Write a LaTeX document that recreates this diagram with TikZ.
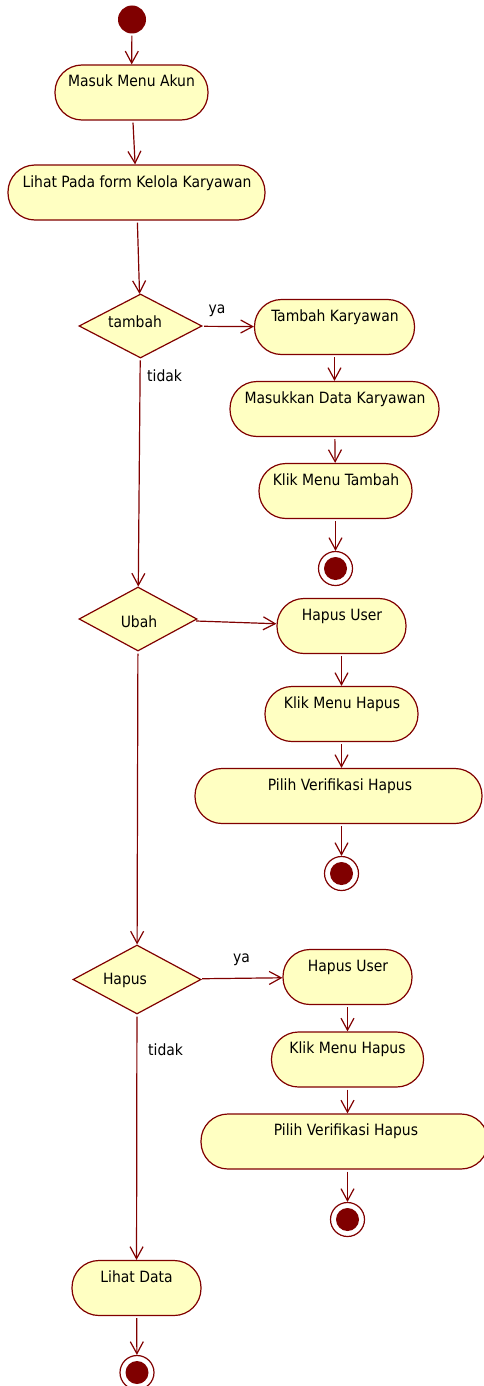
\documentclass[tikz,border=0pt]{standalone}
\usepackage{fontspec}
\setmainfont{DejaVu Sans Condensed}
\usetikzlibrary{shapes.geometric,arrows.meta}
\definecolor{umlred}{RGB}{128,0,0}
\definecolor{umlfill}{RGB}{255,255,194}
\begin{document}
\begin{tikzpicture}[x=1pt,y=-1pt,
  act/.style={draw=umlred, fill=umlfill, line width=1.2pt, rectangle, rounded corners=27pt, minimum height=55pt, inner sep=0pt},
  dec/.style={draw=umlred, fill=umlfill, line width=1.2pt, diamond, inner sep=0pt},
  txt/.style={anchor=base, font=\fontsize{15.5}{18}\selectfont, inner sep=0pt},
  txtw/.style={anchor=base west, font=\fontsize{15.5}{18}\selectfont, inner sep=0pt},
  startnode/.style={circle, fill=umlred, minimum size=28pt, inner sep=0pt},
  endnode/.style={circle, draw=umlred, fill=white, line width=1.2pt, minimum size=34pt, inner sep=0pt,
     path picture={\fill[umlred] (path picture bounding box.center) circle (11.5pt);}},
  flow/.style={draw=umlred, line width=1.2pt, shorten <=2pt, -{Straight Barb[length=12pt,width=13pt]}}
]
\useasboundingbox (0,0) rectangle (484,1386);

% start
\node[startnode] (start) at (132,19.5) {};

% main column
\node[act, minimum width=153pt] (masuk) at (131.5,92.5) {};
\node[txt] (tmasuk) at (131.5,87) {Masuk Menu Akun};
\node[act, minimum width=257pt] (lihat) at (136.5,192.5) {};
\node[txt] (tlihat) at (137,187) {Lihat Pada form Kelola Karyawan};

\node[dec, minimum width=123pt, minimum height=64pt] (tambah) at (140.5,326) {};
\node[txt] (ttambah) at (135,327) {tambah};
\node[dec, minimum width=118pt, minimum height=64pt] (ubah) at (138,619) {};
\node[txt] (tubah) at (139,627) {Ubah};
\node[dec, minimum width=128pt, minimum height=69pt] (hapus) at (137,979.5) {};
\node[txt] (thapus) at (125,984) {Hapus};

\node[act, minimum width=129pt] (lihatdata) at (136.5,1288) {};
\node[txt] (tlihatdata) at (136.5,1282) {Lihat Data};
\node[endnode] (end4) at (137,1372.5) {};

% tambah branch
\node[act, minimum width=160pt] (tk) at (334.5,327) {};
\node[txt] (ttk) at (335,321) {Tambah Karyawan};
\node[act, minimum width=209pt] (mdk) at (334.5,409) {};
\node[txt] (tmdk) at (335,403) {Masukkan Data Karyawan};
\node[act, minimum width=153pt] (kmt) at (335.5,491) {};
\node[txt] (tkmt) at (336,485) {Klik Menu Tambah};
\node[endnode] (end1) at (335.5,568.5) {};

% ubah branch
\node[act, minimum width=129pt] (hu1) at (341.5,626) {};
\node[txt] (thu1) at (342,620) {Hapus User};
\node[act, minimum width=153pt] (kmh1) at (341.5,714) {};
\node[txt] (tkmh1) at (342,708) {Klik Menu Hapus};
\node[act, minimum width=287pt] (pvh1) at (338.5,796) {};
\node[txt] (tpvh1) at (340,790) {Pilih Verifikasi Hapus};
\node[endnode] (end2) at (341.5,873.5) {};

% hapus branch
\node[act, minimum width=129pt] (hu2) at (347.5,977) {};
\node[txt] (thu2) at (348,971) {Hapus User};
\node[act, minimum width=152pt] (kmh2) at (347.5,1059.5) {};
\node[txt] (tkmh2) at (347.5,1053.5) {Klik Menu Hapus};
\node[act, minimum width=287pt] (pvh2) at (344.5,1141.5) {};
\node[txt] (tpvh2) at (346,1135.5) {Pilih Verifikasi Hapus};
\node[endnode] (end3) at (347.5,1219.5) {};

% guard labels
\node[txt] (ya1) at (217,313) {ya};
\node[txtw] (tidak1) at (147,381) {tidak};
\node[txt] (ya2) at (241.5,962) {ya};
\node[txtw] (tidak2) at (148,1055) {tidak};

% connectors
\draw[flow] (start) -- (masuk);
\draw[flow] (masuk) -- (lihat);
\draw[flow] (lihat) -- (tambah);
\draw[flow] (tambah) -- (tk);
\draw[flow] (tk) -- (mdk);
\draw[flow] (mdk) -- (kmt);
\draw[flow] (kmt) -- (end1);
\draw[flow] (tambah) -- (ubah);
\draw[flow] (ubah) -- (hu1);
\draw[flow] (hu1) -- (kmh1);
\draw[flow] (kmh1) -- (kmh1 |- pvh1.north);
\draw[flow] (pvh1.south -| end2) -- (end2);
\draw[flow] (ubah) -- (hapus);
\draw[flow] (hapus) -- (hu2);
\draw[flow] (hu2) -- (kmh2);
\draw[flow] (kmh2) -- (kmh2 |- pvh2.north);
\draw[flow] (pvh2.south -| end3) -- (end3);
\draw[flow] (hapus) -- (lihatdata);
\draw[flow] (lihatdata) -- (end4);
\end{tikzpicture}
\end{document}
